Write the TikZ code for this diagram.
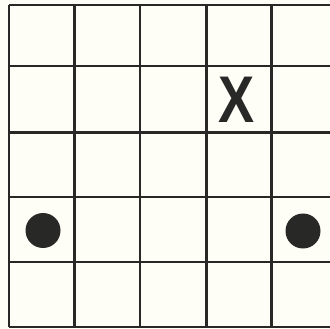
\documentclass[tikz,border=0pt]{standalone}
\usepackage{fontspec}
\setmainfont{Liberation Sans}
\definecolor{paper}{RGB}{254,253,246}
\definecolor{ink}{RGB}{40,40,38}
\begin{document}
\begin{tikzpicture}[x=1pt,y=-1pt,
    gridline/.style={ink,line width=2.6pt},
    stone/.style={circle,fill=ink,inner sep=0pt,minimum size=35pt},
    cross/.style={text=ink,inner sep=0pt,font=\fontsize{66}{66}\selectfont\bfseries,xscale=.82}]
    \clip (0,0) rectangle (330,329);
    \fill[paper] (0,0) rectangle (330,329);
    \def\xmin{9}
    \def\xmax{337}
    \def\ymin{5}
    \def\ymax{327}
    \foreach \x in {9,74.5,140,206.5,271.5}\draw[gridline] (\x,\ymin)--(\x,\ymax);
    \foreach \y in {5,66,132.5,197,262,327}\draw[gridline] (\xmin,\y)--(\xmax,\y);
    \node[cross] (x) at (237,100) {X};
    \node[stone] (left) at (43,230.5) {};
    \node[stone] (right) at (303,231) {};
\end{tikzpicture}
\end{document}
